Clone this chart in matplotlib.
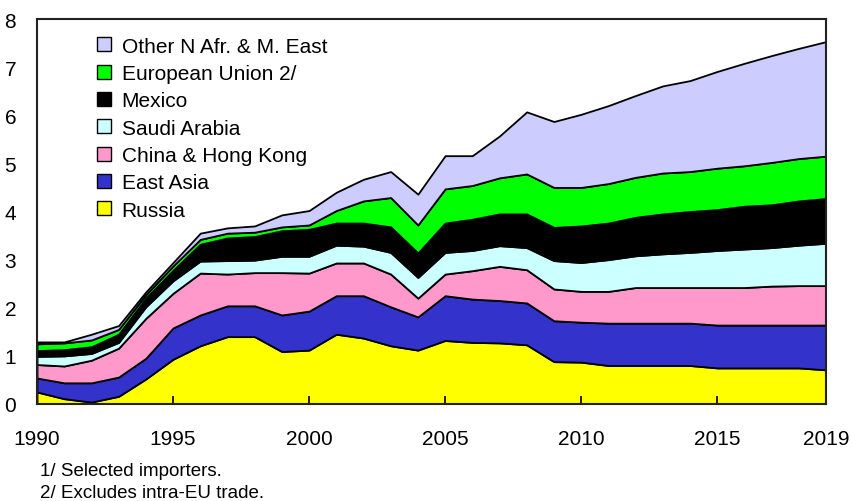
import matplotlib
matplotlib.use("Agg")
import matplotlib.pyplot as plt
from matplotlib.patches import Patch

plt.rcParams['font.family'] = ['Liberation Sans', 'DejaVu Sans']

years = list(range(1990, 2020))

russia = [0.25, 0.11, 0.04, 0.16, 0.52, 0.93, 1.21, 1.40, 1.40, 1.09,
          1.12, 1.45, 1.37, 1.21, 1.12, 1.32, 1.28, 1.27, 1.23, 0.88,
          0.87, 0.80, 0.80, 0.80, 0.80, 0.75, 0.75, 0.75, 0.75, 0.71]
east_asia = [0.29, 0.33, 0.40, 0.40, 0.43, 0.65, 0.64, 0.64, 0.64, 0.76,
             0.81, 0.80, 0.88, 0.81, 0.69, 0.93, 0.90, 0.88, 0.87, 0.85,
             0.83, 0.88, 0.88, 0.88, 0.88, 0.89, 0.89, 0.89, 0.89, 0.93]
china_hk = [0.28, 0.35, 0.47, 0.60, 0.83, 0.72, 0.87, 0.66, 0.69, 0.88,
            0.79, 0.68, 0.68, 0.68, 0.39, 0.45, 0.59, 0.71, 0.69, 0.66,
            0.64, 0.66, 0.74, 0.74, 0.74, 0.78, 0.78, 0.81, 0.82, 0.82]
saudi = [0.17, 0.21, 0.14, 0.12, 0.24, 0.26, 0.25, 0.28, 0.26, 0.34,
         0.35, 0.37, 0.35, 0.45, 0.43, 0.45, 0.42, 0.43, 0.46, 0.59,
         0.60, 0.66, 0.66, 0.70, 0.73, 0.77, 0.80, 0.80, 0.84, 0.88]
mexico = [0.12, 0.13, 0.14, 0.17, 0.18, 0.22, 0.35, 0.47, 0.49, 0.53,
          0.56, 0.46, 0.48, 0.53, 0.51, 0.61, 0.65, 0.66, 0.70, 0.69,
          0.76, 0.76, 0.80, 0.83, 0.85, 0.85, 0.89, 0.89, 0.92, 0.93]
eu = [0.14, 0.14, 0.14, 0.10, 0.07, 0.09, 0.10, 0.10, 0.09, 0.08,
      0.09, 0.26, 0.46, 0.61, 0.58, 0.71, 0.70, 0.75, 0.83, 0.83,
      0.80, 0.82, 0.83, 0.85, 0.83, 0.86, 0.84, 0.88, 0.88, 0.88]
other = [0.04, 0.02, 0.12, 0.08, 0.06, 0.07, 0.13, 0.11, 0.13, 0.25,
         0.30, 0.38, 0.45, 0.54, 0.64, 0.69, 0.62, 0.87, 1.29, 1.37,
         1.52, 1.62, 1.70, 1.81, 1.89, 2.01, 2.13, 2.22, 2.29, 2.38]

labels = ["Russia", "East Asia", "China & Hong Kong", "Saudi Arabia",
          "Mexico", "European Union 2/", "Other N Afr. & M. East"]
colors = ["#FFFF00", "#3333CC", "#FF99CC", "#CCFFFF",
          "#000000", "#00FF00", "#CCCCFF"]
xtick_vals = [1990, 1995, 2000, 2005, 2010, 2015, 2019]
ytick_vals = [0, 1, 2, 3, 4, 5, 6, 7, 8]
footnotes = ["1/ Selected importers.", "2/ Excludes intra-EU trade."]

fig = plt.figure(figsize=(8.52, 5.02), dpi=100)
ax = fig.add_axes([37 / 852, 1 - 405 / 502, (826 - 37) / 852, (405 - 20) / 502])

series = [russia, east_asia, china_hk, saudi, mexico, eu, other]
ax.stackplot(years, *series, colors=colors, edgecolor="black", linewidth=1.3)

ax.set_xlim(1990, 2019)
ax.set_ylim(0, 8)
ax.set_xticks(xtick_vals)
ax.set_xticklabels([str(v) for v in xtick_vals])
ax.set_yticks(ytick_vals)
ax.tick_params(axis="x", direction="in", length=6, width=1.2, pad=18, labelsize=15)
ax.tick_params(axis="y", length=0, pad=15, labelsize=15)
for s in ax.spines.values():
    s.set_linewidth(1.5)
    s.set_color("#222222")

handles = [Patch(facecolor=c, edgecolor="black", linewidth=1.0, label=l)
           for c, l in zip(colors, labels)][::-1]
leg = ax.legend(handles=handles, loc="upper left", bbox_to_anchor=(0.066, 0.976),
                frameon=False, fontsize=15, handlelength=0.66, handleheight=0.66,
                handletextpad=0.5, labelspacing=0.40, borderaxespad=0.0)

fig.text(40 / 852, 1 - 472 / 502, footnotes[0], fontsize=13.5, va="center", ha="left")
fig.text(40 / 852, 1 - 494 / 502, footnotes[1], fontsize=13.5, va="center", ha="left")

fig.savefig("out.png", dpi=100)
